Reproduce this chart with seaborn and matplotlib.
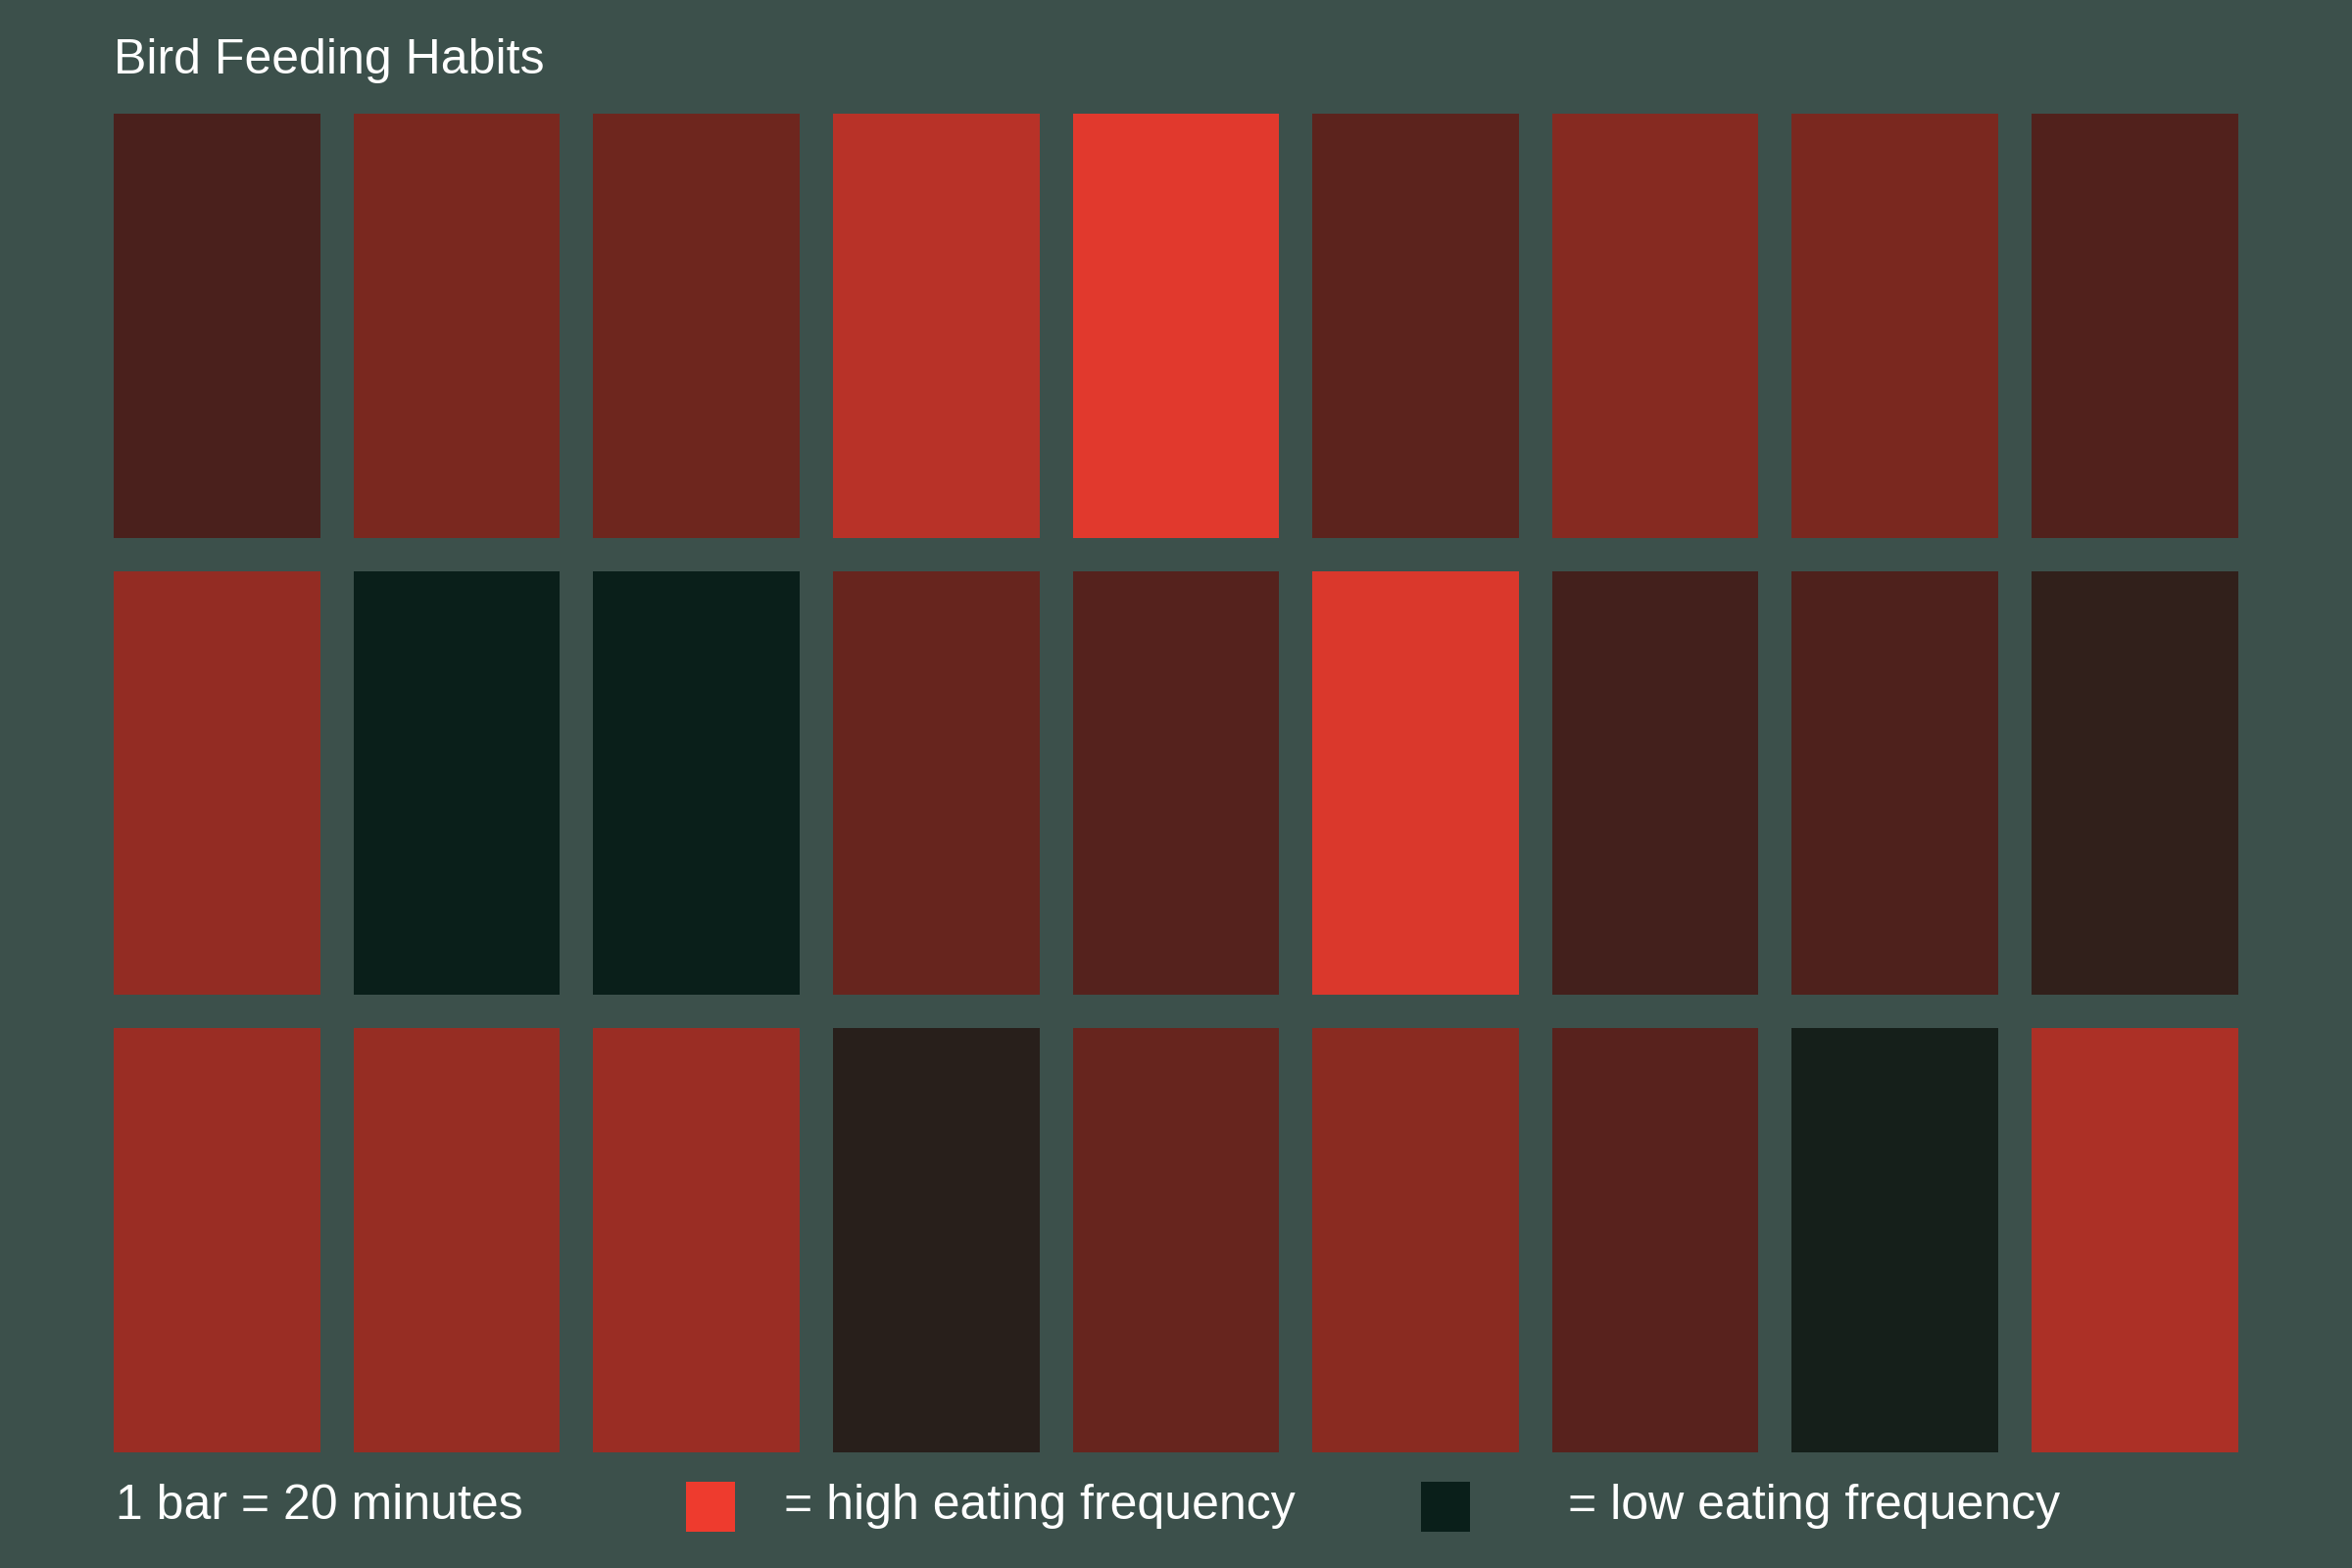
import numpy as np
import pandas as pd
import seaborn as sns
import matplotlib
matplotlib.use("Agg")
import matplotlib.pyplot as plt
from matplotlib.colors import LinearSegmentedColormap
from matplotlib.patches import Rectangle

# ---- data (eating frequency per 20-minute bar, 0-100 scale) ----
row1 = [28, 49, 44, 76, 94, 36, 54, 49, 31]
row2 = [60, 0, 0, 41, 33, 91, 25, 30, 17]
row3 = [63, 61, 63, 13, 41, 56, 34, 5, 71]
title = "Bird Feeding Habits"
note = "1 bar = 20 minutes"
high_label = "= high eating frequency"
low_label = "= low eating frequency"

BG = "#3c504b"
LOW = "#0a1f1a"
HIGH = "#ee3b2e"

cmap = LinearSegmentedColormap.from_list(
    "feed",
    [(0.0, LOW), (0.28, "#4a201c"), (0.49, "#7a281f"), (0.76, "#b83228"), (1.0, HIGH)],
)

data = pd.DataFrame([row1, row2, row3])

sns.set_theme(style="white")
plt.rcParams["font.family"] = ["Liberation Sans", "DejaVu Sans"]

W, H = 2400, 1600
fig = plt.figure(figsize=(12, 8), dpi=200, facecolor=BG)
gap_px = 34
ax = fig.add_axes([
    (116.3 - gap_px / 2) / W,
    1 - (1481.6 + gap_px / 2) / H,
    (2283.7 - 116.3 + gap_px) / W,
    (1481.6 - 116.3 + gap_px) / H,
])
ax.set_facecolor(BG)
sns.heatmap(
    data, ax=ax, cmap=cmap, vmin=0, vmax=100, cbar=False,
    linewidths=gap_px * 72 / 200, linecolor=BG,
    xticklabels=False, yticklabels=False,
)
ax.set_xlabel("")
ax.set_ylabel("")
for s in ax.spines.values():
    s.set_visible(False)

fs = 18.0
fig.text(116 / W, 1 - 75 / H, title, color="white", fontsize=fs, va="baseline", ha="left")
fig.text(118 / W, 1 - 1550 / H, note, color="white", fontsize=fs, va="baseline", ha="left")
fig.text(800 / W, 1 - 1550 / H, high_label, color="white", fontsize=fs, va="baseline", ha="left")
fig.text(1600 / W, 1 - 1550 / H, low_label, color="white", fontsize=fs, va="baseline", ha="left")

fig.patches.append(Rectangle((700 / W, 1 - 1563 / H), 50 / W, 51 / H,
                             transform=fig.transFigure, facecolor=cmap(1.0), edgecolor="none"))
fig.patches.append(Rectangle((1450 / W, 1 - 1563 / H), 50 / W, 51 / H,
                             transform=fig.transFigure, facecolor=cmap(0.0), edgecolor="none"))

fig.savefig("out.png", dpi=200, facecolor=BG)
